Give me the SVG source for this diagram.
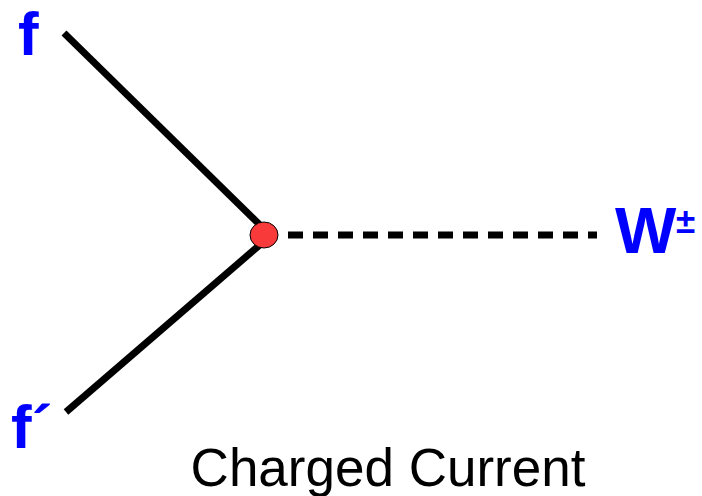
<svg xmlns="http://www.w3.org/2000/svg" width="702" height="496" viewBox="0 0 702 496">
<style>
.lbl{font-family:"Liberation Sans",Arial,sans-serif;font-weight:bold;fill:#0000ff}
.line{stroke:#000;stroke-width:7;fill:none}
</style>
<rect width="702" height="496" fill="#fff"/>
<g id="connectors">
<line class="line" x1="64" y1="33" x2="262" y2="227"/>
<line class="line" x1="262" y1="243" x2="66" y2="412"/>
<line class="line" x1="288" y1="235" x2="597" y2="235" stroke-dasharray="15 10"/>
</g>
<g id="vertex"><ellipse cx="264" cy="235" rx="14" ry="13" fill="#f83a3a" stroke="#000" stroke-width="1"/></g>
<g id="f"><text class="lbl" x="18" y="55" font-size="62">f</text></g>
<g id="fprime"><text class="lbl" x="11" y="448" font-size="62">f´</text></g>
<g id="W"><text class="lbl" x="615" y="253" font-size="65">W</text><text class="lbl" x="676" y="233" font-size="35">±</text></g>
<g id="caption"><text x="388" y="486" font-size="53" text-anchor="middle" font-family="'Liberation Sans',Arial,sans-serif" fill="#000">Charged Current</text></g>
</svg>
